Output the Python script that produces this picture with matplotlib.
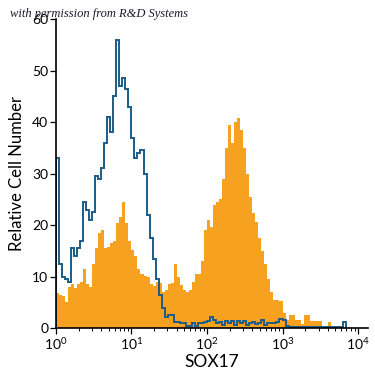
import numpy as np
import matplotlib
matplotlib.use('Agg')
import matplotlib.pyplot as plt

plt.rcParams['font.family'] = ['Lato', 'DejaVu Sans']
plt.rcParams['mathtext.fontset'] = 'custom'
plt.rcParams['mathtext.rm'] = 'Lato'

# histogram bins: equal width in log10 space, starting at 10^0
bin_width = 0.04

# isotype control (blue outline), counts per bin
control = [33, 12.5, 10, 9.5, 9, 15.5, 14, 15.5, 17, 24.5,
           23, 21, 22.5, 29.5, 29, 31, 36, 41, 38, 45,
           56, 47, 48.5, 46.5, 43, 37, 33, 34, 34.5, 30,
           22, 17.5, 13.5, 9.5, 6.5, 4, 2.2, 2.5, 2.5, 1.2,
           1.2, 1.0, 1.0, 0.5, 0.5, 1.0, 0.5, 1.0, 1.0, 1.2,
           1.3, 2.2, 1.5, 1.0, 1.2, 0.6, 1.3, 1.0, 1.4, 0.7,
           1.3, 1.0, 1.3, 0.6, 1.0, 1.2, 0.8, 1.0, 1.5, 0.7,
           1.0, 1.0, 1.0, 1.2, 1.8, 1.5, 0.5, 0.3, 0.3, 0.3,
           0.3, 0.3, 0.3, 0.3, 0.3, 0.3, 0.3, 0.3, 0.3, 0.3,
           0.3, 0.3, 0.3, 0.3, 0.3, 1.2]

# SOX17 stained cells (orange fill), counts per bin
sox17 = [6.8, 6.5, 6.2, 5.0, 8, 8.5, 7.8, 8.5, 9, 11.5,
         8.5, 8, 12.5, 15.5, 18.5, 19, 15.5, 15.7, 16.5, 17,
         20.5, 21.5, 24.5, 20.5, 17, 15.2, 14, 11.5, 10.5, 10.2,
         10, 8.5, 8.2, 9, 8.7, 7, 7.4, 8.5, 8.7, 12.5,
         10, 8.3, 7.4, 7, 7.5, 9, 10.5, 10.5, 13, 19,
         21, 19.7, 24, 24.5, 25, 29, 35, 39.5, 36, 40,
         40.8, 38.5, 35, 30, 25.5, 22.3, 20.6, 17.5, 15, 12.5,
         9.5, 7, 5.4, 5.4, 5.2, 3.0, 1.5, 2.5, 2.5, 1.5,
         1.5, 0.8, 2.5, 2.5, 1.4, 1.4, 1.4, 1.4, 0.3, 0.5, 1.2]

yticks = [0, 10, 20, 30, 40, 50, 60]

fig = plt.figure(figsize=(3.75, 3.75), dpi=100)
ax = fig.add_axes([0.149, 0.125, 0.832, 0.824])

edges_s = 10 ** (bin_width * np.arange(len(sox17) + 1))
edges_c = 10 ** (bin_width * np.arange(len(control) + 1))

ax.stairs(sox17, edges_s, fill=True, color='#F6A11F', linewidth=0)
ax.stairs(control, edges_c, color='#1D5B88', linewidth=1.4)

ax.set_xscale('log')
ax.set_xlim(1, 10 ** 4.13)
ax.set_ylim(0, 60)
ax.set_yticks(yticks)

for s in ['top', 'right']:
    ax.spines[s].set_visible(False)
for s in ['left', 'bottom']:
    ax.spines[s].set_linewidth(1.2)

ax.tick_params(axis='both', which='major', labelsize=10, length=4, width=0.9, pad=1.5)
ax.tick_params(axis='x', which='minor', length=2.5, width=0.7)

ax.set_xlabel('SOX17', fontsize=12.5, labelpad=2)
ax.set_ylabel('Relative Cell Number', fontsize=12, labelpad=5)

fig.text(0.027, 0.962, 'with permission from R&D Systems', fontsize=9,
         family='Liberation Serif', style='italic', va='center', color='#1a1a2e')

fig.savefig('out.png', dpi=100)
plt.close(fig)
